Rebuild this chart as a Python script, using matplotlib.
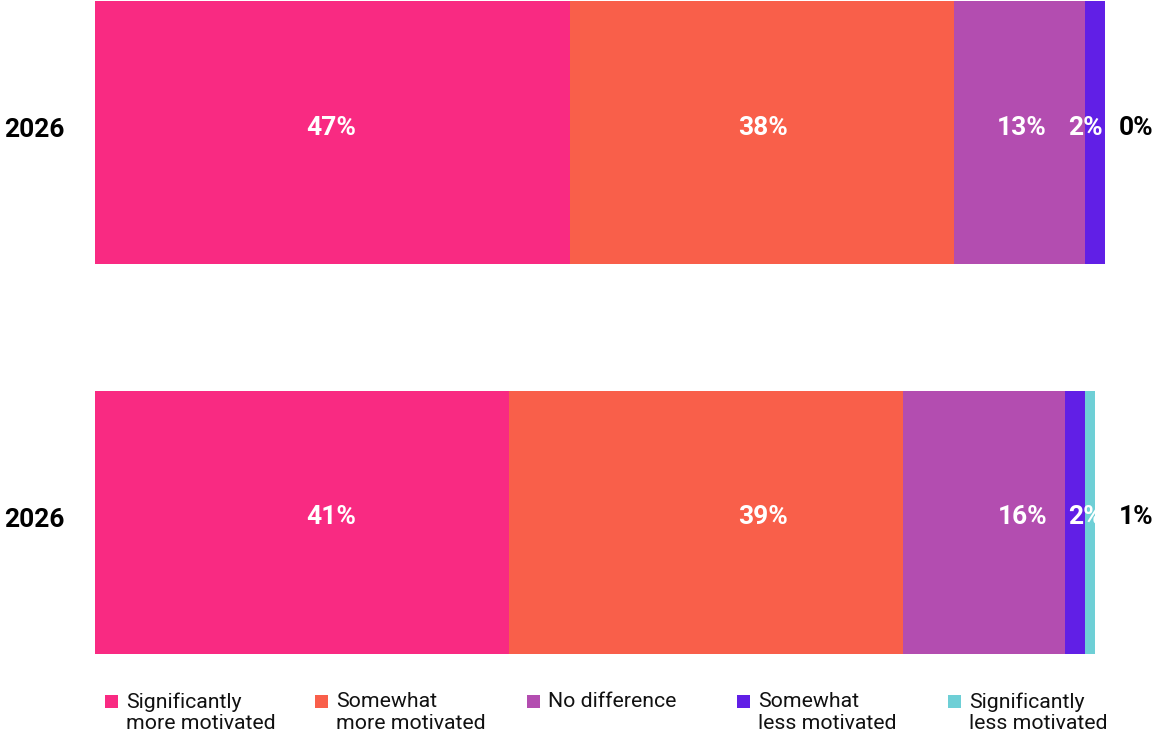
import matplotlib.pyplot as plt
from matplotlib.patches import Rectangle

plt.rcParams['font.family'] = ['Roboto', 'DejaVu Sans']

years = ["2026", "2026"]
categories = ["Significantly\nmore motivated", "Somewhat\nmore motivated", "No difference",
              "Somewhat\nless motivated", "Significantly\nless motivated"]
row_top = [47, 38, 13, 2, 0]
row_bottom = [41, 39, 16, 2, 1]
colors = ["#F92A82", "#F95F4A", "#B34DB0", "#611FE6", "#6ECFD6"]

# label columns are shared by both rows
label_x = [23.4, 66.1, 91.8, 98.1, 103.1]
text_lift = 0.013  # raise labels a touch above bar centre

fig = plt.figure(figsize=(11.54, 7.36), dpi=100)
W, H = 1154, 736
ax = fig.add_axes([95 / W, (H - 654) / H, 1010 / W, 653 / H])

rows = [row_top, row_bottom]
ypos = [1, 0]
bar_h = 0.676
for vals, y in zip(rows, ypos):
    left = 0
    for i, (v, c) in enumerate(zip(vals, colors)):
        ax.barh(y, v, left=left, height=bar_h, color=c, linewidth=0)
        left += v
        last = i == len(vals) - 1
        ax.text(label_x[i], y + text_lift, f"{v}%", ha='center', va='center',
                fontsize=19, fontweight='bold',
                color='black' if last else 'white', clip_on=False)

ax.set_xlim(0, 100)
ax.set_ylim(-0.338, 1.338)
ax.set_yticks([y + text_lift for y in ypos])
ax.set_yticklabels(years, fontsize=19, fontweight='bold')
ax.tick_params(axis='y', length=0, pad=22)
ax.set_xticks([])
for s in ax.spines.values():
    s.set_visible(False)

# legend drawn by hand so the swatch lines up with the first text line
leg_x = [105, 315, 527, 737, 948]
for x, lab, c in zip(leg_x, categories, colors):
    fig.patches.append(Rectangle((x / W, (H - 708) / H), 13 / W, 13 / H,
                                 transform=fig.transFigure, color=c, linewidth=0))
    fig.text((x + 21) / W, (H - 692) / H, lab, ha='left', va='top',
             fontsize=15.3, linespacing=1.18, color='#111111')

fig.savefig("out.png", dpi=100)
